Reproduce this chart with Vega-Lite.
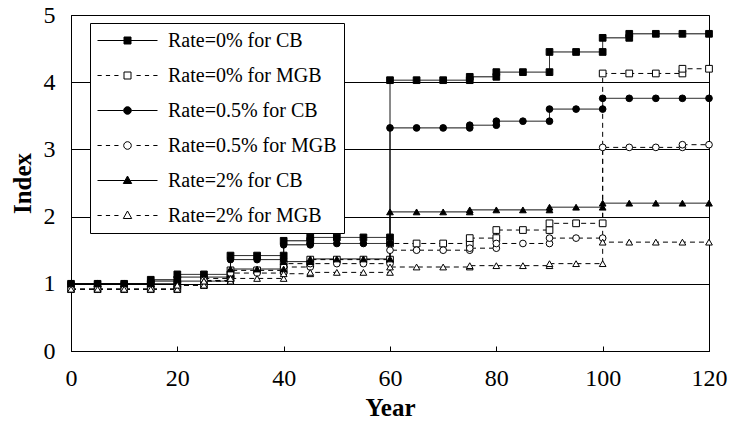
{
  "$schema": "https://vega.github.io/schema/vega-lite/v6.json",
  "width": 638,
  "height": 336,
  "autosize": {"type": "none"},
  "padding": {"left": 71, "top": 15, "right": 20, "bottom": 78},
  "background": "white",
  "config": {
    "view": {"stroke": "black", "strokeWidth": 1},
    "font": "Liberation Serif"
  },
  "datasets": {
    "d": [
      {"s":"Rate=0% for CB","o":0,"x":0,"y":1.0},{"s":"Rate=0% for CB","o":1,"x":5,"y":1.0},{"s":"Rate=0% for CB","o":2,"x":10,"y":1.0},{"s":"Rate=0% for CB","o":3,"x":15,"y":1.0},{"s":"Rate=0% for CB","o":4,"x":15,"y":1.06},{"s":"Rate=0% for CB","o":5,"x":20,"y":1.06},{"s":"Rate=0% for CB","o":6,"x":20,"y":1.14},{"s":"Rate=0% for CB","o":7,"x":25,"y":1.14},{"s":"Rate=0% for CB","o":8,"x":30,"y":1.14},{"s":"Rate=0% for CB","o":9,"x":30,"y":1.42},{"s":"Rate=0% for CB","o":10,"x":35,"y":1.42},{"s":"Rate=0% for CB","o":11,"x":40,"y":1.42},{"s":"Rate=0% for CB","o":12,"x":40,"y":1.64},{"s":"Rate=0% for CB","o":13,"x":45,"y":1.64},{"s":"Rate=0% for CB","o":14,"x":45,"y":1.69},{"s":"Rate=0% for CB","o":15,"x":50,"y":1.69},{"s":"Rate=0% for CB","o":16,"x":55,"y":1.69},{"s":"Rate=0% for CB","o":17,"x":60,"y":1.69},{"s":"Rate=0% for CB","o":18,"x":60,"y":4.03},{"s":"Rate=0% for CB","o":19,"x":65,"y":4.03},{"s":"Rate=0% for CB","o":20,"x":70,"y":4.03},{"s":"Rate=0% for CB","o":21,"x":75,"y":4.03},{"s":"Rate=0% for CB","o":22,"x":75,"y":4.08},{"s":"Rate=0% for CB","o":23,"x":80,"y":4.08},{"s":"Rate=0% for CB","o":24,"x":80,"y":4.15},{"s":"Rate=0% for CB","o":25,"x":85,"y":4.15},{"s":"Rate=0% for CB","o":26,"x":90,"y":4.15},{"s":"Rate=0% for CB","o":27,"x":90,"y":4.45},{"s":"Rate=0% for CB","o":28,"x":95,"y":4.45},{"s":"Rate=0% for CB","o":29,"x":100,"y":4.45},{"s":"Rate=0% for CB","o":30,"x":100,"y":4.66},{"s":"Rate=0% for CB","o":31,"x":105,"y":4.66},{"s":"Rate=0% for CB","o":32,"x":105,"y":4.72},{"s":"Rate=0% for CB","o":33,"x":110,"y":4.72},{"s":"Rate=0% for CB","o":34,"x":115,"y":4.72},{"s":"Rate=0% for CB","o":35,"x":120,"y":4.72},

      {"s":"Rate=0% for MGB","o":0,"x":0,"y":0.92},{"s":"Rate=0% for MGB","o":1,"x":5,"y":0.92},{"s":"Rate=0% for MGB","o":2,"x":10,"y":0.92},{"s":"Rate=0% for MGB","o":3,"x":15,"y":0.92},{"s":"Rate=0% for MGB","o":4,"x":20,"y":0.92},{"s":"Rate=0% for MGB","o":5,"x":20,"y":0.98},{"s":"Rate=0% for MGB","o":6,"x":25,"y":0.98},{"s":"Rate=0% for MGB","o":7,"x":25,"y":1.08},{"s":"Rate=0% for MGB","o":8,"x":30,"y":1.08},{"s":"Rate=0% for MGB","o":9,"x":30,"y":1.2},{"s":"Rate=0% for MGB","o":10,"x":35,"y":1.2},{"s":"Rate=0% for MGB","o":11,"x":40,"y":1.2},{"s":"Rate=0% for MGB","o":12,"x":40,"y":1.3},{"s":"Rate=0% for MGB","o":13,"x":45,"y":1.3},{"s":"Rate=0% for MGB","o":14,"x":45,"y":1.36},{"s":"Rate=0% for MGB","o":15,"x":50,"y":1.36},{"s":"Rate=0% for MGB","o":16,"x":55,"y":1.36},{"s":"Rate=0% for MGB","o":17,"x":60,"y":1.36},{"s":"Rate=0% for MGB","o":18,"x":60,"y":1.6},{"s":"Rate=0% for MGB","o":19,"x":65,"y":1.6},{"s":"Rate=0% for MGB","o":20,"x":70,"y":1.6},{"s":"Rate=0% for MGB","o":21,"x":75,"y":1.6},{"s":"Rate=0% for MGB","o":22,"x":75,"y":1.68},{"s":"Rate=0% for MGB","o":23,"x":80,"y":1.68},{"s":"Rate=0% for MGB","o":24,"x":80,"y":1.8},{"s":"Rate=0% for MGB","o":25,"x":85,"y":1.8},{"s":"Rate=0% for MGB","o":26,"x":90,"y":1.8},{"s":"Rate=0% for MGB","o":27,"x":90,"y":1.9},{"s":"Rate=0% for MGB","o":28,"x":95,"y":1.9},{"s":"Rate=0% for MGB","o":29,"x":100,"y":1.9},{"s":"Rate=0% for MGB","o":30,"x":100,"y":4.13},{"s":"Rate=0% for MGB","o":31,"x":105,"y":4.13},{"s":"Rate=0% for MGB","o":32,"x":110,"y":4.13},{"s":"Rate=0% for MGB","o":33,"x":115,"y":4.13},{"s":"Rate=0% for MGB","o":34,"x":115,"y":4.2},{"s":"Rate=0% for MGB","o":35,"x":120,"y":4.2},

      {"s":"Rate=0.5% for CB","o":0,"x":0,"y":1.0},{"s":"Rate=0.5% for CB","o":1,"x":5,"y":1.0},{"s":"Rate=0.5% for CB","o":2,"x":10,"y":1.0},{"s":"Rate=0.5% for CB","o":3,"x":15,"y":1.0},{"s":"Rate=0.5% for CB","o":4,"x":15,"y":1.04},{"s":"Rate=0.5% for CB","o":5,"x":20,"y":1.04},{"s":"Rate=0.5% for CB","o":6,"x":20,"y":1.1},{"s":"Rate=0.5% for CB","o":7,"x":25,"y":1.1},{"s":"Rate=0.5% for CB","o":8,"x":30,"y":1.1},{"s":"Rate=0.5% for CB","o":9,"x":30,"y":1.36},{"s":"Rate=0.5% for CB","o":10,"x":35,"y":1.36},{"s":"Rate=0.5% for CB","o":11,"x":40,"y":1.36},{"s":"Rate=0.5% for CB","o":12,"x":40,"y":1.58},{"s":"Rate=0.5% for CB","o":13,"x":45,"y":1.58},{"s":"Rate=0.5% for CB","o":14,"x":45,"y":1.6},{"s":"Rate=0.5% for CB","o":15,"x":50,"y":1.6},{"s":"Rate=0.5% for CB","o":16,"x":55,"y":1.6},{"s":"Rate=0.5% for CB","o":17,"x":60,"y":1.6},{"s":"Rate=0.5% for CB","o":18,"x":60,"y":3.32},{"s":"Rate=0.5% for CB","o":19,"x":65,"y":3.32},{"s":"Rate=0.5% for CB","o":20,"x":70,"y":3.32},{"s":"Rate=0.5% for CB","o":21,"x":75,"y":3.32},{"s":"Rate=0.5% for CB","o":22,"x":75,"y":3.36},{"s":"Rate=0.5% for CB","o":23,"x":80,"y":3.36},{"s":"Rate=0.5% for CB","o":24,"x":80,"y":3.42},{"s":"Rate=0.5% for CB","o":25,"x":85,"y":3.42},{"s":"Rate=0.5% for CB","o":26,"x":90,"y":3.42},{"s":"Rate=0.5% for CB","o":27,"x":90,"y":3.6},{"s":"Rate=0.5% for CB","o":28,"x":95,"y":3.6},{"s":"Rate=0.5% for CB","o":29,"x":100,"y":3.6},{"s":"Rate=0.5% for CB","o":30,"x":100,"y":3.76},{"s":"Rate=0.5% for CB","o":31,"x":105,"y":3.76},{"s":"Rate=0.5% for CB","o":32,"x":110,"y":3.76},{"s":"Rate=0.5% for CB","o":33,"x":115,"y":3.76},{"s":"Rate=0.5% for CB","o":34,"x":120,"y":3.76},

      {"s":"Rate=0.5% for MGB","o":0,"x":0,"y":0.92},{"s":"Rate=0.5% for MGB","o":1,"x":5,"y":0.92},{"s":"Rate=0.5% for MGB","o":2,"x":10,"y":0.92},{"s":"Rate=0.5% for MGB","o":3,"x":15,"y":0.92},{"s":"Rate=0.5% for MGB","o":4,"x":20,"y":0.92},{"s":"Rate=0.5% for MGB","o":5,"x":20,"y":0.98},{"s":"Rate=0.5% for MGB","o":6,"x":25,"y":0.98},{"s":"Rate=0.5% for MGB","o":7,"x":25,"y":1.05},{"s":"Rate=0.5% for MGB","o":8,"x":30,"y":1.05},{"s":"Rate=0.5% for MGB","o":9,"x":30,"y":1.16},{"s":"Rate=0.5% for MGB","o":10,"x":35,"y":1.16},{"s":"Rate=0.5% for MGB","o":11,"x":40,"y":1.16},{"s":"Rate=0.5% for MGB","o":12,"x":40,"y":1.25},{"s":"Rate=0.5% for MGB","o":13,"x":45,"y":1.25},{"s":"Rate=0.5% for MGB","o":14,"x":45,"y":1.3},{"s":"Rate=0.5% for MGB","o":15,"x":50,"y":1.3},{"s":"Rate=0.5% for MGB","o":16,"x":55,"y":1.3},{"s":"Rate=0.5% for MGB","o":17,"x":60,"y":1.3},{"s":"Rate=0.5% for MGB","o":18,"x":60,"y":1.5},{"s":"Rate=0.5% for MGB","o":19,"x":65,"y":1.5},{"s":"Rate=0.5% for MGB","o":20,"x":70,"y":1.5},{"s":"Rate=0.5% for MGB","o":21,"x":75,"y":1.5},{"s":"Rate=0.5% for MGB","o":22,"x":75,"y":1.53},{"s":"Rate=0.5% for MGB","o":23,"x":80,"y":1.53},{"s":"Rate=0.5% for MGB","o":24,"x":80,"y":1.6},{"s":"Rate=0.5% for MGB","o":25,"x":85,"y":1.6},{"s":"Rate=0.5% for MGB","o":26,"x":90,"y":1.6},{"s":"Rate=0.5% for MGB","o":27,"x":90,"y":1.68},{"s":"Rate=0.5% for MGB","o":28,"x":95,"y":1.68},{"s":"Rate=0.5% for MGB","o":29,"x":100,"y":1.68},{"s":"Rate=0.5% for MGB","o":30,"x":100,"y":3.03},{"s":"Rate=0.5% for MGB","o":31,"x":105,"y":3.03},{"s":"Rate=0.5% for MGB","o":32,"x":110,"y":3.03},{"s":"Rate=0.5% for MGB","o":33,"x":115,"y":3.03},{"s":"Rate=0.5% for MGB","o":34,"x":115,"y":3.07},{"s":"Rate=0.5% for MGB","o":35,"x":120,"y":3.07},

      {"s":"Rate=2% for CB","o":0,"x":0,"y":1.0},{"s":"Rate=2% for CB","o":1,"x":5,"y":1.0},{"s":"Rate=2% for CB","o":2,"x":10,"y":1.0},{"s":"Rate=2% for CB","o":3,"x":15,"y":1.0},{"s":"Rate=2% for CB","o":4,"x":20,"y":1.0},{"s":"Rate=2% for CB","o":5,"x":20,"y":1.04},{"s":"Rate=2% for CB","o":6,"x":25,"y":1.04},{"s":"Rate=2% for CB","o":7,"x":30,"y":1.04},{"s":"Rate=2% for CB","o":8,"x":30,"y":1.22},{"s":"Rate=2% for CB","o":9,"x":35,"y":1.22},{"s":"Rate=2% for CB","o":10,"x":40,"y":1.22},{"s":"Rate=2% for CB","o":11,"x":40,"y":1.33},{"s":"Rate=2% for CB","o":12,"x":45,"y":1.33},{"s":"Rate=2% for CB","o":13,"x":45,"y":1.37},{"s":"Rate=2% for CB","o":14,"x":50,"y":1.37},{"s":"Rate=2% for CB","o":15,"x":55,"y":1.37},{"s":"Rate=2% for CB","o":16,"x":60,"y":1.37},{"s":"Rate=2% for CB","o":17,"x":60,"y":2.07},{"s":"Rate=2% for CB","o":18,"x":65,"y":2.07},{"s":"Rate=2% for CB","o":19,"x":70,"y":2.07},{"s":"Rate=2% for CB","o":20,"x":75,"y":2.07},{"s":"Rate=2% for CB","o":21,"x":75,"y":2.1},{"s":"Rate=2% for CB","o":22,"x":80,"y":2.1},{"s":"Rate=2% for CB","o":23,"x":85,"y":2.1},{"s":"Rate=2% for CB","o":24,"x":90,"y":2.1},{"s":"Rate=2% for CB","o":25,"x":90,"y":2.14},{"s":"Rate=2% for CB","o":26,"x":95,"y":2.14},{"s":"Rate=2% for CB","o":27,"x":100,"y":2.14},{"s":"Rate=2% for CB","o":28,"x":100,"y":2.2},{"s":"Rate=2% for CB","o":29,"x":105,"y":2.2},{"s":"Rate=2% for CB","o":30,"x":110,"y":2.2},{"s":"Rate=2% for CB","o":31,"x":115,"y":2.2},{"s":"Rate=2% for CB","o":32,"x":120,"y":2.2},

      {"s":"Rate=2% for MGB","o":0,"x":0,"y":0.92},{"s":"Rate=2% for MGB","o":1,"x":5,"y":0.92},{"s":"Rate=2% for MGB","o":2,"x":10,"y":0.92},{"s":"Rate=2% for MGB","o":3,"x":15,"y":0.92},{"s":"Rate=2% for MGB","o":4,"x":20,"y":0.92},{"s":"Rate=2% for MGB","o":5,"x":20,"y":0.98},{"s":"Rate=2% for MGB","o":6,"x":25,"y":0.98},{"s":"Rate=2% for MGB","o":7,"x":25,"y":1.04},{"s":"Rate=2% for MGB","o":8,"x":30,"y":1.04},{"s":"Rate=2% for MGB","o":9,"x":30,"y":1.08},{"s":"Rate=2% for MGB","o":10,"x":35,"y":1.08},{"s":"Rate=2% for MGB","o":11,"x":40,"y":1.08},{"s":"Rate=2% for MGB","o":12,"x":40,"y":1.15},{"s":"Rate=2% for MGB","o":13,"x":45,"y":1.15},{"s":"Rate=2% for MGB","o":14,"x":45,"y":1.17},{"s":"Rate=2% for MGB","o":15,"x":50,"y":1.17},{"s":"Rate=2% for MGB","o":16,"x":55,"y":1.17},{"s":"Rate=2% for MGB","o":17,"x":60,"y":1.17},{"s":"Rate=2% for MGB","o":18,"x":60,"y":1.25},{"s":"Rate=2% for MGB","o":19,"x":65,"y":1.25},{"s":"Rate=2% for MGB","o":20,"x":70,"y":1.25},{"s":"Rate=2% for MGB","o":21,"x":75,"y":1.25},{"s":"Rate=2% for MGB","o":22,"x":75,"y":1.27},{"s":"Rate=2% for MGB","o":23,"x":80,"y":1.27},{"s":"Rate=2% for MGB","o":24,"x":85,"y":1.27},{"s":"Rate=2% for MGB","o":25,"x":90,"y":1.27},{"s":"Rate=2% for MGB","o":26,"x":90,"y":1.3},{"s":"Rate=2% for MGB","o":27,"x":95,"y":1.3},{"s":"Rate=2% for MGB","o":28,"x":100,"y":1.3},{"s":"Rate=2% for MGB","o":29,"x":100,"y":1.62},{"s":"Rate=2% for MGB","o":30,"x":105,"y":1.62},{"s":"Rate=2% for MGB","o":31,"x":110,"y":1.62},{"s":"Rate=2% for MGB","o":32,"x":115,"y":1.62},{"s":"Rate=2% for MGB","o":33,"x":120,"y":1.62}
    ]
  },
  "data": {"name": "d"},
  "encoding": {
    "x": {
      "field": "x", "type": "quantitative",
      "scale": {"domain": [0, 120], "nice": false, "zero": false},
      "axis": {
        "values": [0, 20, 40, 60, 80, 100, 120],
        "title": "Year", "grid": false,
        "tickSize": -5, "tickColor": "black", "tickWidth": 1,
        "domainColor": "black", "domainWidth": 1,
        "labelFont": "Liberation Serif", "labelFontSize": 24, "labelColor": "black",
        "labelPadding": 20, "labelFlush": false,
        "titleFont": "Liberation Serif", "titleFontSize": 25, "titleFontWeight": "bold", "titleColor": "black",
        "titlePadding": 5
      }
    },
    "y": {
      "field": "y", "type": "quantitative",
      "scale": {"domain": [0, 5], "nice": false},
      "axis": {
        "values": [0, 1, 2, 3, 4, 5],
        "title": "Index", "grid": true, "gridColor": "black", "gridOpacity": 1, "gridWidth": 1,
        "ticks": false, "tickSize": 0,
        "domainColor": "black", "domainWidth": 1,
        "labelFont": "Liberation Serif", "labelFontSize": 24, "labelColor": "black",
        "labelPadding": 16,
        "titleFont": "Liberation Serif", "titleFontSize": 25, "titleFontWeight": "bold", "titleColor": "black",
        "titleX": -49, "titleY": 168, "titleAngle": -90, "titleAlign": "center", "titleBaseline": "middle"
      }
    }
  },
  "layer": [
    {
      "mark": {"type": "line", "color": "black", "strokeWidth": 1},
      "encoding": {
        "order": {"field": "o", "type": "quantitative"},
        "strokeDash": {
          "field": "s", "type": "nominal",
          "scale": {
            "domain": ["Rate=0% for CB", "Rate=0% for MGB", "Rate=0.5% for CB", "Rate=0.5% for MGB", "Rate=2% for CB", "Rate=2% for MGB"],
            "range": [[1, 0], [5, 4], [1, 0], [5, 4], [1, 0], [5, 4]]
          },
          "legend": null
        }
      }
    },
    {
      "mark": {"type": "point", "filled": true, "stroke": "black", "strokeWidth": 1, "size": 45, "opacity": 1},
      "encoding": {
        "shape": {
          "field": "s", "type": "nominal",
          "scale": {
            "domain": ["Rate=0% for CB", "Rate=0% for MGB", "Rate=0.5% for CB", "Rate=0.5% for MGB", "Rate=2% for CB", "Rate=2% for MGB"],
            "range": ["square", "square", "circle", "circle", "triangle-up", "triangle-up"]
          },
          "legend": null
        },
        "fill": {
          "field": "s", "type": "nominal",
          "scale": {
            "domain": ["Rate=0% for CB", "Rate=0% for MGB", "Rate=0.5% for CB", "Rate=0.5% for MGB", "Rate=2% for CB", "Rate=2% for MGB"],
            "range": ["black", "white", "black", "white", "black", "white"]
          },
          "legend": null
        }
      }
    },
    {
      "transform": [{"filter": "datum.x < 0"}],
      "mark": {"type": "point", "filled": false, "color": "black", "strokeWidth": 1, "opacity": 1},
      "encoding": {
        "shape": {
          "field": "s", "type": "nominal",
          "scale": {
            "domain": ["Rate=0% for CB", "Rate=0% for MGB", "Rate=0.5% for CB", "Rate=0.5% for MGB", "Rate=2% for CB", "Rate=2% for MGB"],
            "range": [
              "M-1,0H1.65M2.35,0H5M1.65,-0.35H2.35V0.35H1.65Z",
              "M-1,0H-0.58M-0.16,0H0.26M0.68,0H1.1M2.9,0H3.32M3.74,0H4.16M4.58,0H5M1.65,-0.35H2.35V0.35H1.65Z",
              "M-1,0H1.62M2.38,0H5M1.62,0A0.38,0.38 0 1,0 2.38,0A0.38,0.38 0 1,0 1.62,0Z",
              "M-1,0H-0.58M-0.16,0H0.26M0.68,0H1.1M2.9,0H3.32M3.74,0H4.16M4.58,0H5M1.62,0A0.38,0.38 0 1,0 2.38,0A0.38,0.38 0 1,0 1.62,0Z",
              "M-1,0H1.73M2.27,0H5M2,-0.45L2.42,0.3H1.58Z",
              "M-1,0H-0.58M-0.16,0H0.26M0.68,0H1.1M2.9,0H3.32M3.74,0H4.16M4.58,0H5M2,-0.45L2.42,0.3H1.58Z"
            ]
          },
          "legend": {
            "orient": "none", "legendX": 19, "legendY": 8,
            "title": null,
            "symbolSize": 400, "symbolStrokeColor": "black", "symbolStrokeWidth": 1, "symbolOpacity": 1,
            "labelFont": "Liberation Serif", "labelFontSize": 20, "labelColor": "black",
            "labelOffset": 50, "labelLimit": 400, "rowPadding": 14,
            "padding": 7, "strokeColor": "black", "fillColor": "white",
            "encode": {"symbols": {"update": {"stroke": {"value": "black"}, "strokeWidth": {"value": 1}}}}
          }
        },
        "fill": {
          "field": "s", "type": "nominal",
          "scale": {
            "domain": ["Rate=0% for CB", "Rate=0% for MGB", "Rate=0.5% for CB", "Rate=0.5% for MGB", "Rate=2% for CB", "Rate=2% for MGB"],
            "range": ["black", "white", "black", "white", "black", "white"]
          },
          "legend": {
            "orient": "none", "legendX": 19, "legendY": 8,
            "title": null,
            "symbolSize": 400, "symbolStrokeColor": "black", "symbolStrokeWidth": 1, "symbolOpacity": 1,
            "labelFont": "Liberation Serif", "labelFontSize": 20, "labelColor": "black",
            "labelOffset": 50, "labelLimit": 400, "rowPadding": 14,
            "padding": 7, "strokeColor": "black", "fillColor": "white",
            "encode": {"symbols": {"update": {"stroke": {"value": "black"}, "strokeWidth": {"value": 1}}}}
          }
        }
      }
    }
  ],
  "resolve": {
    "scale": {"shape": "independent", "fill": "independent"},
    "legend": {"shape": "independent", "fill": "independent"}
  }
}
